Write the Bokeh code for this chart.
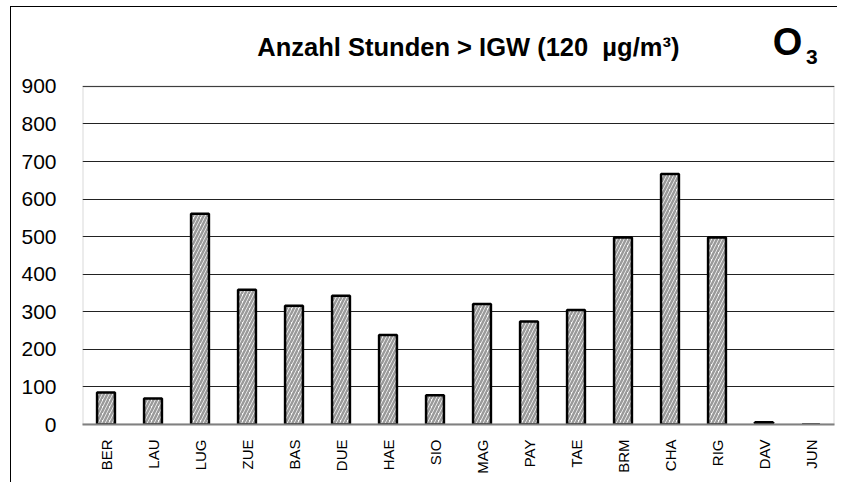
import math
from bokeh.plotting import figure
from bokeh.models import ColumnDataSource, Label, FactorRange, BoxAnnotation
from bokeh.embed import file_html
from bokeh.resources import INLINE

stations = ["BER", "LAU", "LUG", "ZUE", "BAS", "DUE", "HAE", "SIO",
            "MAG", "PAY", "TAE", "BRM", "CHA", "RIG", "DAV", "JUN"]
hours = [85, 69, 561, 359, 316, 343, 238, 78, 321, 274, 305, 498, 667, 498, 6, 0]
y_ticks = [0, 100, 200, 300, 400, 500, 600, 700, 800, 900]

src = ColumnDataSource(dict(x=stations, top=hours))

p = figure(x_range=FactorRange(*stations), y_range=(0, 1110),
           frame_width=752, frame_height=417,
           min_border_left=71, min_border_right=3,
           min_border_top=0, min_border_bottom=58,
           output_backend="svg", toolbar_location=None,
           background_fill_color="white", border_fill_color="white",
           styles={"border-top": "1px solid #000", "border-left": "1px solid #000",
                   "margin-left": "10px", "margin-top": "6px"})

p.outline_line_color = None

p.xgrid.grid_line_color = None
p.ygrid.grid_line_color = "#222222"
p.ygrid.grid_line_width = 1
p.ygrid.ticker = y_ticks

p.vbar(x="x", top="top", width=0.38, source=src,
       fill_color="white", line_color="black", line_width=2.5,
       hatch_pattern="/", hatch_color="#9a9a9a", hatch_scale=7, hatch_weight=2.5)

p.add_layout(BoxAnnotation(bottom=0, top=900, fill_color=None,
                           line_color="#808080", line_width=2))

p.yaxis.ticker = y_ticks
p.yaxis.axis_line_color = None
p.yaxis.major_tick_line_color = None
p.yaxis.minor_tick_line_color = None
p.yaxis.major_label_text_font = "Liberation Sans"
p.yaxis.major_label_text_font_size = "21px"
p.yaxis.major_label_text_color = "black"
p.yaxis.major_label_standoff = 20

p.xaxis.axis_line_color = "#808080"
p.xaxis.axis_line_width = 2
p.xaxis.major_tick_line_color = None
p.xaxis.minor_tick_line_color = None
p.xaxis.major_label_orientation = math.pi / 2
p.xaxis.major_label_text_font = "Liberation Sans"
p.xaxis.major_label_text_font_size = "15px"
p.xaxis.major_label_text_color = "black"
p.xaxis.major_label_standoff = 9

p.add_layout(Label(x=8.21, y=1004, text="Anzahl Stunden > IGW (120\u00a0 µg/m³)",
                   text_font="Liberation Sans", text_font_style="bold",
                   text_font_size="25.5px", text_align="center", text_baseline="middle",
                   text_color="black"))
p.add_layout(Label(x=15.0, y=1018, text="O",
                   text_font="Liberation Sans", text_font_style="bold",
                   text_font_size="38px", text_align="center", text_baseline="middle",
                   text_color="black"))
p.add_layout(Label(x=15.52, y=978, text="3",
                   text_font="Liberation Sans", text_font_style="bold",
                   text_font_size="21px", text_align="center", text_baseline="middle",
                   text_color="black"))

open("out.html", "w").write(file_html(p, INLINE))
